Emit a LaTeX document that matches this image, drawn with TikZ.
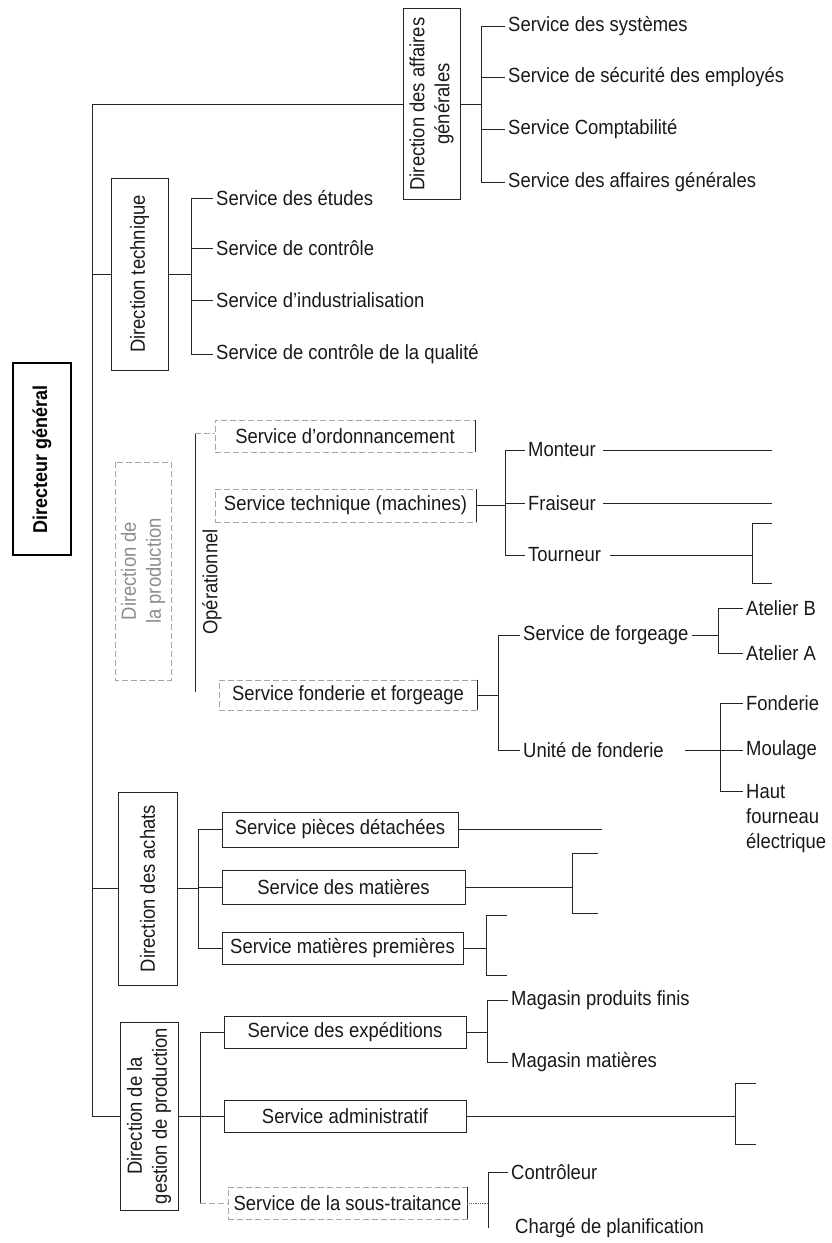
\documentclass[tikz,border=0pt]{standalone}
\usepackage{fontspec}
\setmainfont{Liberation Sans}[FakeStretch=0.9]
\begin{document}
\begin{tikzpicture}[x=1pt,y=-1pt,
  every node/.style={font=\fontsize{20.5}{25}\selectfont, text=black!90},
  ln/.style={line width=0.8pt, draw=black!85},
  faint/.style={line width=0.7pt, draw=black!35, dash pattern=on 6pt off 3pt},
  dots/.style={line width=0.8pt, draw=black!60, densely dotted},
  lbl/.style={anchor=west, inner sep=3pt},
  dirbox/.style={draw=black!85, line width=0.9pt, rotate=90, align=center, inner sep=0pt},
  svbox/.style={draw=black!85, line width=0.9pt, inner sep=0pt, align=center},
  ghostbox/.style={faint, inner sep=0pt, align=center},
]
\useasboundingbox (0,0) rectangle (832,1243);

% ---------- top level ----------
\node[dirbox, line width=1.1pt, draw=black, minimum width=192, minimum height=58,
      font=\fontsize{20}{25}\selectfont\bfseries, text=black] (dg) at (42,459) {Directeur général};

\node[dirbox, minimum width=191, minimum height=57] (dag) at (431.5,104) {Direction des affaires\\générales};
\node[dirbox, minimum width=192, minimum height=57] (dt) at (139.5,274) {Direction technique};
\node[ghostbox, rotate=90, minimum width=218, minimum height=56, text=black!45] (dp) at (143,571) {Direction de\\la production};
\node[dirbox, minimum width=193, minimum height=59] (da) at (147.5,888.5) {Direction des achats};
\node[dirbox, minimum width=188, minimum height=58] (dgp) at (149,1116) {Direction de la\\gestion de production};

% trunk
\coordinate (tk) at (92,0);
\draw[ln] (dag.north) -| (tk |- dgp.north) -- (dgp.north);
\draw[ln] (tk |- dt.north) -- (dt.north);
\draw[ln] (tk |- da.north) -- (da.north);

% ---------- affaires generales ----------
\coordinate (b1) at (481,0);
\node[lbl] (ag1) at (505,26) {Service des systèmes};
\node[lbl] (ag2) at (505,77) {Service de sécurité des employés};
\node[lbl] (ag3) at (505,129) {Service Comptabilité};
\node[lbl] (ag4) at (505,182) {Service des affaires générales};
\draw[ln] (dag.south) -- (dag.south -| b1);
\draw[ln] (ag1.west -| b1) -- (ag4.west -| b1);
\foreach \n in {ag1,ag2,ag3,ag4} \draw[ln] (\n.west -| b1) -- (\n.west);

% ---------- technique ----------
\coordinate (b2) at (191,0);
\node[lbl] (t1) at (213,198) {Service des études};
\node[lbl] (t2) at (213,248) {Service de contrôle};
\node[lbl] (t3) at (213,300) {Service d’industrialisation};
\node[lbl] (t4) at (213,354) {Service de contrôle de la qualité};
\draw[ln] (dt.south) -- (dt.south -| b2);
\draw[ln] (t1.west -| b2) -- (t4.west -| b2);
\foreach \n in {t1,t2,t3,t4} \draw[ln] (\n.west -| b2) -- (\n.west);

% ---------- production ----------
\coordinate (opT) at (195,433);
\coordinate (opB) at (195,692);
\draw[ln] (opT) -- (opB);
\node[rotate=90, inner sep=0pt] (opl) at (212,582) {Opérationnel};

\node[ghostbox, minimum width=260, minimum height=32] (so) at (345,436) {Service d’ordonnancement};
\draw[ln] (so.north east) -- (so.south east);
\draw[faint] (opT) -- (opT -| so.west);

\node[ghostbox, minimum width=261, minimum height=33] (st) at (345.5,505.5) {Service technique (machines)};
\draw[ln] (st.north east) -- (st.south east);

\node[ghostbox, minimum width=258, minimum height=30] (sff) at (348,695) {Service fonderie et forgeage};
\draw[ln] (sff.north east) -- (sff.south east);

% machines
\coordinate (b3) at (505,0);
\coordinate (rx) at (772,0);
\coordinate (b4) at (752,0);
\node[lbl] (m1) at (525,450) {Monteur};
\node[lbl] (m2) at (525,503) {Fraiseur};
\node[lbl] (m3) at (525,555) {Tourneur};
\draw[ln] (st.east) -- (st.east -| b3);
\draw[ln] (m1.west -| b3) -- (m3.west -| b3);
\foreach \n in {m1,m2,m3} \draw[ln] (\n.west -| b3) -- (\n.west);
\draw[ln] ([xshift=4pt]m1.east) -- (m1.east -| rx);
\draw[ln] ([xshift=4pt]m2.east) -- (m2.east -| rx);
\draw[ln] ([xshift=6pt]m3.east) -- (m3.east -| b4);
\coordinate (tA) at (772,523);
\coordinate (tB) at (772,583);
\draw[ln] (tA) -| (b4 |- tB) -- (tB);

% fonderie et forgeage
\coordinate (b5) at (498,0);
\node[lbl] (f1) at (520,635) {Service de forgeage};
\node[lbl] (f2) at (520,750) {Unité de fonderie};
\draw[ln] (sff.east) -- (sff.east -| b5);
\draw[ln] (f1.west -| b5) -- (f2.west -| b5);
\foreach \n in {f1,f2} \draw[ln] (\n.west -| b5) -- (\n.west);

\coordinate (b6) at (718,0);
\node[lbl] (a1) at (743,608) {Atelier B};
\node[lbl] (a2) at (743,653) {Atelier A};
\draw[ln] (f1.east) -- (f1.east -| b6);
\draw[ln] (a1.west -| b6) -- (a2.west -| b6);
\foreach \n in {a1,a2} \draw[ln] (\n.west -| b6) -- (\n.west);

\coordinate (b7) at (720,0);
\node[lbl] (u1) at (743,703) {Fonderie};
\node[lbl] (u2) at (743,750) {Moulage};
\node[anchor=north west, inner sep=3pt, align=left] (u3) at (743,781) {Haut\\fourneau\\électrique};
\coordinate (u3s) at ([yshift=-10.5pt]u3.north west);
\draw[ln] ([xshift=18pt]f2.east) -- (f2.east -| b7);
\draw[ln] (u1.west -| b7) |- (u3s);
\foreach \n in {u1,u2} \draw[ln] (\n.west -| b7) -- (\n.west);

% ---------- achats ----------
\coordinate (b8) at (198,0);
\node[svbox, minimum width=236, minimum height=35] (spd) at (340,829.5) {Service pièces détachées};
\node[svbox, minimum width=243, minimum height=34] (sdm) at (343.5,887) {Service des matières};
\node[svbox, minimum width=241, minimum height=32] (smp) at (342.5,948) {Service matières premières};
\draw[ln] (da.south) -- (da.south -| b8);
\draw[ln] (spd.west -| b8) -- (smp.west -| b8);
\foreach \n in {spd,sdm,smp} \draw[ln] (\n.west -| b8) -- (\n.west);

\coordinate (e1) at (602,0);
\draw[ln] (spd.east) -- (spd.east -| e1);

\coordinate (b9) at (572,0);
\coordinate (dA) at (598,853);
\coordinate (dB) at (598,913);
\draw[ln] (sdm.east) -- (sdm.east -| b9);
\draw[ln] (dA) -| (b9 |- dB) -- (dB);

\coordinate (b10) at (486,0);
\coordinate (pA) at (507,915);
\coordinate (pB) at (507,975);
\draw[ln] (smp.east) -- (smp.east -| b10);
\draw[ln] (pA) -| (b10 |- pB) -- (pB);

% ---------- gestion de production ----------
\coordinate (b11) at (200,0);
\node[svbox, minimum width=242, minimum height=32] (sexp) at (345,1032) {Service des expéditions};
\node[svbox, minimum width=242, minimum height=32] (sadm) at (345,1116) {Service administratif};
\node[ghostbox, minimum width=239, minimum height=32] (sst) at (347.5,1203) {Service de la sous-traitance};
\draw[ln] (sst.north east) -- (sst.south east);
\draw[ln] (dgp.south) -- (dgp.south -| b11);
\draw[ln] (sexp.west -| b11) -- (sst.west -| b11);
\foreach \n in {sexp,sadm} \draw[ln] (\n.west -| b11) -- (\n.west);
\draw[faint] (sst.west -| b11) -- (sst.west);

\coordinate (b12) at (487,0);
\node[lbl] (g1) at (508,1000) {Magasin produits finis};
\node[lbl] (g2) at (508,1062) {Magasin matières};
\draw[ln] (sexp.east) -- (sexp.east -| b12);
\draw[ln] (g1.west -| b12) -- (g2.west -| b12);
\foreach \n in {g1,g2} \draw[ln] (\n.west -| b12) -- (\n.west);

\coordinate (b13) at (735,0);
\coordinate (hA) at (756,1083);
\coordinate (hB) at (756,1144);
\draw[ln] (sadm.east) -- (sadm.east -| b13);
\draw[ln] (hA) -| (b13 |- hB) -- (hB);

\coordinate (b14) at (488,0);
\node[lbl] (c1) at (508,1172) {Contrôleur};
\node[lbl] (c2) at (512,1228) {Chargé de planification};
\draw[dots] (sst.east) -- (sst.east -| b14);
\draw[ln] (c1.west -| b14) -- (b14 |- c2.west);
\draw[ln] (c1.west -| b14) -- (c1.west);

\end{tikzpicture}
\end{document}
